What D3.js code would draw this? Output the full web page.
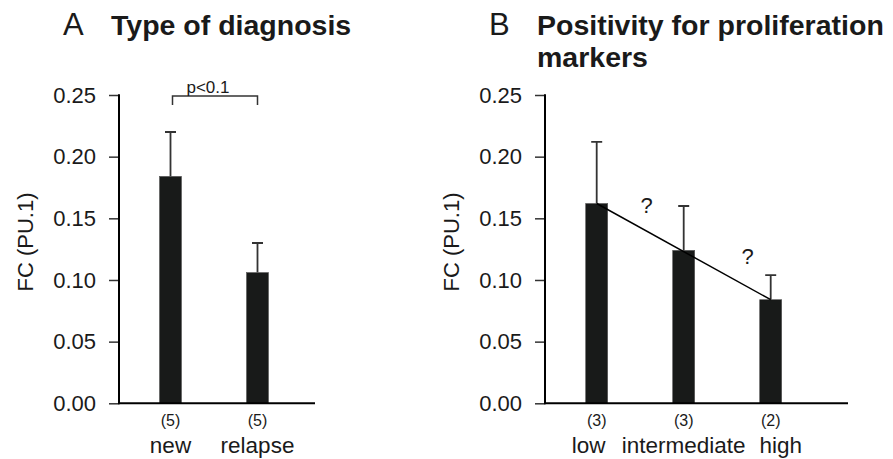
<!DOCTYPE html>
<html>
<head>
<meta charset="utf-8">
<script src="https://cdn.jsdelivr.net/npm/d3@7"></script>
<style>
  body { margin: 0; background: #fff; }
  text { font-family: "Liberation Sans", Arial, Helvetica, sans-serif; fill: #1a1a1a; }
</style>
</head>
<body>
<div id="chart"></div>
<script>
// data
var groupsA = ["new", "relapse"];
var meansA = [0.184, 0.106];
var semA = [0.036, 0.024];
var nA = [5, 5];

var groupsB = ["low", "intermediate", "high"];
var meansB = [0.162, 0.124, 0.084];
var semB = [0.050, 0.036, 0.020];
var nB = [3, 3, 2];

var yTicks = [0, 0.05, 0.10, 0.15, 0.20, 0.25];

var svgWidth = 893;
var svgHeight = 459;

var svg = d3.select("#chart")
  .append("svg")
  .attr("width", svgWidth)
  .attr("height", svgHeight);

// shared y scale (both panels use the same vertical layout)
var yScale = d3.scaleLinear()
  .domain([0, 0.25])
  .range([403.3, 95]);

var barWidth = 22;

function drawPanel(cfg) {
  var g = svg.append("g");
  var data = cfg.groups.map(function(name, i) {
    return { name: name, mean: cfg.means[i], sem: cfg.sem[i], n: cfg.n[i], i: i };
  });

  var xScale = d3.scalePoint()
    .domain(cfg.groups)
    .range([cfg.firstX, cfg.firstX + 87 * (cfg.groups.length - 1)]);

  // y axis ticks + labels
  var leftAxis = d3.axisLeft(yScale)
    .tickValues(yTicks)
    .tickSize(10)
    .tickPadding(13)
    .tickFormat(d3.format(".2f"));

  var yAxis = g.append("g")
    .attr("transform", `translate(${cfg.axisX}, 0)`)
    .call(leftAxis);
  yAxis.select(".domain").remove();
  yAxis.selectAll(".tick line").attr("stroke", "#333").attr("stroke-width", 1.5);
  yAxis.selectAll(".tick text")
    .style("font-size", "22px")
    .attr("fill", "#111");

  // y axis line
  g.append("line")
    .attr("x1", cfg.axisX).attr("x2", cfg.axisX)
    .attr("y1", yScale(0.25) - 0.75).attr("y2", yScale(0) + 1)
    .attr("stroke", "#000").attr("stroke-width", 2);

  // error bars (upper only)
  g.selectAll(".err")
    .data(data)
    .enter()
    .append("path")
    .attr("class", "err")
    .attr("d", function(d) {
      var x = xScale(d.name);
      var top = yScale(d.mean + d.sem);
      return `M${x},${yScale(d.mean)}V${top}M${x - 5.5},${top}H${x + 5.5}`;
    })
    .attr("fill", "none")
    .attr("stroke", "#333")
    .attr("stroke-width", 1.8);

  // bars
  g.selectAll(".bar")
    .data(data)
    .enter()
    .append("rect")
    .attr("class", "bar")
    .attr("x", d => xScale(d.name) - barWidth / 2)
    .attr("y", d => yScale(d.mean))
    .attr("width", barWidth)
    .attr("height", d => yScale(0) - yScale(d.mean))
    .attr("fill", "#181a19")
    .attr("stroke", "#555")
    .attr("stroke-width", 0.6);

  // x axis line
  g.append("line")
    .attr("x1", cfg.axisX).attr("x2", cfg.axisEnd)
    .attr("y1", yScale(0)).attr("y2", yScale(0))
    .attr("stroke", "#000").attr("stroke-width", 2);

  // n labels
  g.selectAll(".nlab")
    .data(data)
    .enter()
    .append("text")
    .attr("class", "nlab")
    .attr("x", d => xScale(d.name))
    .attr("y", 426)
    .attr("text-anchor", "middle")
    .style("font-size", "16px")
    .text(d => "(" + d.n + ")");

  // category labels
  g.selectAll(".clab")
    .data(data)
    .enter()
    .append("text")
    .attr("class", "clab")
    .attr("x", d => xScale(d.name) + (cfg.labelNudge ? cfg.labelNudge[d.i] : 0))
    .attr("y", 453)
    .attr("text-anchor", "middle")
    .style("font-size", "22.5px")
    .text(d => d.name);

  // y axis title
  g.append("text")
    .attr("transform", `translate(${cfg.axisX - 86}, 242) rotate(-90)`)
    .attr("text-anchor", "middle")
    .style("font-size", "22px")
    .text("FC (PU.1)");

  // panel letter and title
  g.append("text")
    .attr("x", cfg.letterX)
    .attr("y", 35)
    .style("font-size", "31px")
    .text(cfg.letter);

  cfg.title.forEach(function(line, k) {
    g.append("text")
      .attr("x", cfg.letterX + 48)
      .attr("y", 35 + k * 32)
      .style("font-size", "28.5px")
      .style("font-weight", "bold")
      .text(line);
  });

  return { g: g, x: xScale, data: data };
}

var panelA = drawPanel({
  groups: groupsA, means: meansA, sem: semA, n: nA,
  axisX: 119, axisEnd: 315, firstX: 170.5,
  letter: "A", letterX: 63, title: ["Type of diagnosis"]
});

var panelB = drawPanel({
  groups: groupsB, means: meansB, sem: semB, n: nB,
  axisX: 545, axisEnd: 848, firstX: 596.7,
  labelNudge: [-8, 0, 10],
  letter: "B", letterX: 489, title: ["Positivity for proliferation", "markers"]
});

// significance bracket on panel A
var xa = panelA.x;
var by = 96;
panelA.g.append("path")
  .attr("d", `M${xa("new") + 2},${by + 9}V${by}H${xa("relapse")}V${by + 9}`)
  .attr("fill", "none")
  .attr("stroke", "#333")
  .attr("stroke-width", 1.5);

panelA.g.append("text")
  .attr("x", (xa("new") + xa("relapse")) / 2 - 6)
  .attr("y", 93)
  .attr("text-anchor", "middle")
  .style("font-size", "17px")
  .text("p<0.1");

// trend line on panel B from first to last bar
var xb = panelB.x;
var first = panelB.data[0];
var last = panelB.data[panelB.data.length - 1];
panelB.g.append("line")
  .attr("x1", xb(first.name)).attr("y1", yScale(first.mean))
  .attr("x2", xb(last.name)).attr("y2", yScale(last.mean))
  .attr("stroke", "#000")
  .attr("stroke-width", 1.5);

// question marks between neighbouring bars
var qOffsets = [50, 64];
var qLift = [26, 31];
panelB.data.slice(0, -1).forEach(function(d, i) {
  var x = xb(d.name) + qOffsets[i];
  var t = (x - xb(first.name)) / (xb(last.name) - xb(first.name));
  var lineY = yScale(first.mean) + t * (yScale(last.mean) - yScale(first.mean));
  panelB.g.append("text")
    .attr("x", x)
    .attr("y", lineY - qLift[i] + 8)
    .attr("text-anchor", "middle")
    .style("font-size", "22px")
    .text("?");
});
</script>
</body>
</html>
